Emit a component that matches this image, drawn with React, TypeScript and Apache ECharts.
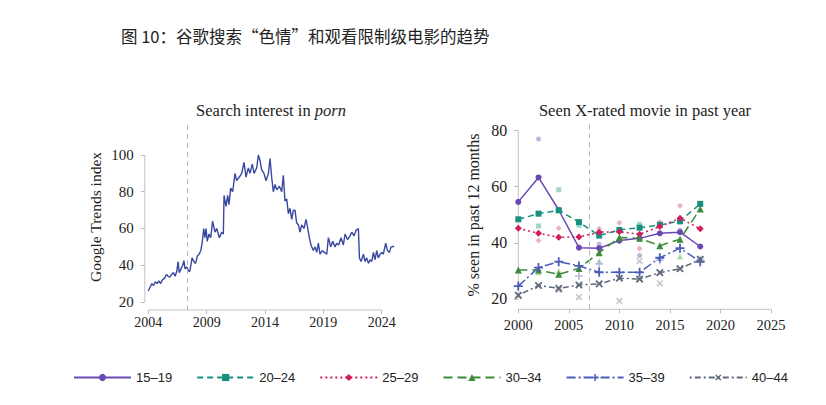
import React, { useEffect, useRef } from "react";
import * as echarts from "echarts";

// ---------- Left panel: Google Trends "porn" ----------
const searchYears = [
  2004.0, 2004.15, 2004.3, 2004.45, 2004.6, 2004.75, 2004.9, 2005.05, 2005.2, 2005.4, 2005.55, 2005.7, 2005.85,
  2006.0, 2006.15, 2006.3, 2006.45, 2006.55, 2006.65, 2006.8, 2006.95, 2007.05, 2007.15, 2007.3, 2007.45, 2007.55,
  2007.65, 2007.75, 2007.9, 2008.05, 2008.2, 2008.35, 2008.5, 2008.63, 2008.75, 2008.85, 2008.95, 2009.05, 2009.2,
  2009.35, 2009.51, 2009.71, 2009.86, 2010.09, 2010.29, 2010.43, 2010.49, 2010.66, 2010.8, 2010.91, 2011.06, 2011.23,
  2011.43, 2011.57, 2011.8, 2012.0, 2012.2, 2012.37, 2012.57, 2012.71, 2012.91, 2013.06, 2013.29, 2013.43, 2013.57,
  2013.71, 2013.91, 2014.09, 2014.29, 2014.43, 2014.57, 2014.71, 2014.86, 2015.0, 2015.23, 2015.43, 2015.57, 2015.71,
  2015.86, 2016.0, 2016.14, 2016.29, 2016.43, 2016.57, 2016.71, 2016.86, 2017.0, 2017.14, 2017.34, 2017.51, 2017.66,
  2017.8, 2017.94, 2018.14, 2018.29, 2018.43, 2018.57, 2018.71, 2018.91, 2019.09, 2019.29, 2019.43, 2019.63, 2019.8,
  2020.0, 2020.14, 2020.31, 2020.51, 2020.71, 2020.86, 2021.06, 2021.29, 2021.43, 2021.63, 2021.8, 2022.0, 2022.09,
  2022.23, 2022.43, 2022.57, 2022.71, 2022.86, 2023.0, 2023.14, 2023.29, 2023.43, 2023.57, 2023.71, 2023.86, 2024.0,
  2024.14, 2024.34, 2024.49, 2024.66, 2024.8, 2024.94, 2025.06,
];
const searchValues = [
  26, 28, 30, 29, 31, 30, 31.5, 30, 32, 33, 35, 34, 33.5,
  35, 36, 34, 37, 42, 36, 38, 40, 42.5, 38, 39, 37, 36.5,
  40, 44, 42, 41, 45, 46, 48, 53, 60, 55, 60, 53, 57,
  55, 64, 58, 60, 55, 58, 57, 78, 72, 78, 73, 82, 80,
  90, 86, 88, 90, 96, 88, 93, 90, 95, 90, 93, 100, 97,
  92, 90, 86, 90, 98, 88, 80, 84, 81, 83, 80, 89, 75,
  76, 68, 71, 65, 70, 70, 63, 62, 58, 62, 60, 65, 60,
  55, 51, 48, 50, 47, 52, 46, 48, 47, 46, 55, 50, 53,
  50, 52, 51, 55, 51, 57, 54, 56, 58, 56, 59, 60, 44,
  42, 46, 42, 44, 41, 43, 42, 47, 43, 48, 44, 46, 47,
  46, 52, 48, 47, 50, 50, 50.5,
];
const leftXTicks = [2004, 2009, 2014, 2019, 2024];
const leftYTicks = [20, 40, 60, 80, 100];
const leftMarkerYear = 2007.35;

// ---------- Right panel: seen X-rated movie ----------
const surveyYears = [2000, 2002, 2004, 2006, 2008, 2010, 2012, 2014, 2016, 2018];
const ageGroups = ["15–19", "20–24", "25–29", "30–34", "35–39", "40–44"];
const v15 = [54.6, 63.3, 51.7, 38.3, 38.1, 40.8, 41.6, 43.4, 43.8, 38.7];
const v20 = [48.4, 50.4, 51.6, 47.4, 42.6, 44.6, 45.4, 46.4, 47.8, 53.9];
const v25 = [45.2, 43.4, 42.0, 42.1, 43.8, 44.0, 43.1, 45.8, 48.8, 45.0];
const v30 = [30.3, 30.3, 28.8, 30.9, 36.5, 41.9, 41.6, 39.0, 41.3, 52.1];
const v35 = [24.6, 31.2, 33.3, 31.8, 29.5, 29.5, 29.5, 34.7, 38.1, 33.3];
const v40 = [21.3, 24.8, 23.8, 25.0, 25.4, 27.4, 27.1, 29.4, 30.8, 34.1];
// faint single-year points
const f15 = [[2002, 77], [2008, 39.5], [2012, 35.5], [2014, 46.3], [2016, 44.5]];
const f20 = [[2002, 46], [2004, 58.9], [2006, 46.3], [2008, 43.3], [2010, 44.5], [2012, 46.6], [2014, 47], [2016, 47.2]];
const f25 = [[2002, 40.8], [2004, 45.2], [2008, 45], [2010, 47.2], [2012, 38], [2014, 47.3], [2016, 53.2]];
const f30 = [[2002, 29.5], [2004, 30], [2008, 33.5], [2016, 35.1]];
const f35 = [[2006, 28.2], [2008, 32.5], [2014, 33.8], [2018, 34]];
const f40 = [[2004, 23.2], [2006, 20.7], [2010, 19.3], [2012, 33.5], [2014, 25.6]];
const rightXTicks = [2000, 2005, 2010, 2015, 2020, 2025];
const rightYTicks = [20, 40, 60, 80];
const rightMarkerYear = 2007.0;

const groupValues = [v15, v20, v25, v30, v35, v40];
const groupFaint = [f15, f20, f25, f30, f35, f40];
const colors = ["#6a48b3", "#17917f", "#cf1f5e", "#3d8b3a", "#4a5cb8", "#5e6a7a"];
const faintColors = ["#b5a8d6", "#8fcdc4", "#e8a5be", "#a7cba4", "#a9b1dd", "#b6bcc4"];
const plusPath = "path://M4,0H6V4H10V6H6V10H4V6H0V4H4Z";
const symbols = ["circle", "rect", "diamond", "triangle", plusPath, plusPath];
const symbolRot = [0, 0, 0, 0, 0, 45];
const symbolSizes = [6, 6, 7, 7, 9, 9];
const dashes: any[] = ["solid", [6, 4], [2, 3], [9, 5], [9, 3, 2, 3], [2, 3, 6, 3]];

const SERIF = "Liberation Serif";
const SANS = "Liberation Sans";
const CJK = "Noto Sans CJK SC";

export default function App() {
  const ref = useRef<HTMLDivElement>(null);
  useEffect(() => {
    document.body.style.margin = "0";
    const chart = echarts.init(ref.current!, null, { renderer: "svg" });

    const series: any[] = [
      {
        type: "line",
        xAxisIndex: 0,
        yAxisIndex: 0,
        data: searchYears.map((y, i) => [y, searchValues[i]]),
        showSymbol: false,
        lineStyle: { color: "#3a48a0", width: 1.4 },
        itemStyle: { color: "#3a48a0" },
        silent: true,
        markLine: {
          silent: true,
          symbol: "none",
          label: { show: false },
          lineStyle: { color: "#b8b8b8", type: [5, 4], width: 1 },
          data: [{ xAxis: leftMarkerYear }],
        },
      },
    ];
    groupFaint.forEach((pts, g) => {
      series.push({
        type: "scatter",
        name: "faint" + g,
        xAxisIndex: 1,
        yAxisIndex: 1,
        data: pts,
        symbol: symbols[g],
        symbolRotate: symbolRot[g],
        symbolSize: symbolSizes[g] - 1,
        itemStyle: { color: faintColors[g], opacity: 0.85 },
        silent: true,
        z: 1,
      });
    });
    ageGroups.forEach((name, g) => {
      series.push({
        type: "line",
        name,
        xAxisIndex: 1,
        yAxisIndex: 1,
        data: surveyYears.map((y, i) => [y, groupValues[g][i]]),
        symbol: symbols[g],
        symbolRotate: symbolRot[g],
        symbolSize: symbolSizes[g],
        lineStyle: { color: colors[g], width: 1.5, type: dashes[g] },
        itemStyle: { color: colors[g] },
        z: 3,
        silent: true,
        ...(g === 0
          ? {
              markLine: {
                silent: true,
                symbol: "none",
                label: { show: false },
                lineStyle: { color: "#b8b8b8", type: [5, 4], width: 1 },
                data: [{ xAxis: rightMarkerYear }],
              },
            }
          : {}),
      });
    });

    const axisLabelBase = { color: "#222", fontFamily: SERIF };
    chart.setOption({
      animation: false,
      grid: [
        { left: 144.8, top: 123, width: 252.1, height: 187 },
        { left: 518.3, top: 123, width: 252.7, height: 186.3 },
      ],
      xAxis: [
        {
          type: "value",
          gridIndex: 0,
          min: 2003.7,
          max: 2025.3,
          splitLine: { show: false },
          axisLine: { show: false },
          axisTick: { show: true, customValues: leftXTicks, length: 4, lineStyle: { color: "#bbb" } },
          axisLabel: { ...axisLabelBase, fontSize: 14, margin: 5, customValues: leftXTicks, formatter: (v: number) => String(v) },
        },
        {
          type: "value",
          gridIndex: 1,
          min: 2000,
          max: 2025,
          splitLine: { show: false },
          axisLine: { show: false },
          axisTick: { show: true, customValues: rightXTicks, length: 4, lineStyle: { color: "#bbb" } },
          axisLabel: { ...axisLabelBase, fontSize: 14.5, margin: 8, customValues: rightXTicks, formatter: (v: number) => String(v) },
        },
      ],
      yAxis: [
        {
          type: "value",
          gridIndex: 0,
          min: 15.65,
          max: 117.4,
          splitLine: { show: false },
          axisLine: { show: false },
          axisTick: { show: true, customValues: leftYTicks, length: 4, lineStyle: { color: "#bbb" } },
          axisLabel: { ...axisLabelBase, fontSize: 15, margin: 11, customValues: leftYTicks },
        },
        {
          type: "value",
          gridIndex: 1,
          min: 16.33,
          max: 82.7,
          splitLine: { show: false },
          axisLine: { show: false },
          axisTick: { show: true, customValues: rightYTicks, length: 4, lineStyle: { color: "#bbb" } },
          axisLabel: { ...axisLabelBase, fontSize: 16, margin: 11, customValues: rightYTicks },
        },
      ],
      legend: {
        data: ageGroups,
        left: 73,
        top: 371,
        padding: 0,
        itemWidth: 57,
        itemHeight: 9,
        itemGap: 24,
        textStyle: { fontFamily: SANS, fontSize: 13, color: "#222" },
      },
      series,
    });

    // axis lines spanning only the tick range (base-R style)
    const p = (gi: number, v: number[]) => chart.convertToPixel({ gridIndex: gi } as any, v) as number[];
    const lx0 = p(0, [leftXTicks[0], leftYTicks[0]]);
    const lx1 = p(0, [leftXTicks[leftXTicks.length - 1], leftYTicks[leftYTicks.length - 1]]);
    const rx0 = p(1, [rightXTicks[0], rightYTicks[0]]);
    const rx1 = p(1, [rightXTicks[rightXTicks.length - 1], rightYTicks[rightYTicks.length - 1]]);
    const lBottom = p(0, [2004, 15.65])[1];
    const lLeft = p(0, [2003.7, 20])[0];
    const rBottom = p(1, [2000, 16.33])[1];
    const rLeft = p(1, [2000, 20])[0];
    const axisStyle = { stroke: "#c4c4c4", lineWidth: 1 };

    chart.setOption({
      graphic: [
        { type: "line", shape: { x1: lLeft, y1: lx0[1], x2: lLeft, y2: lx1[1] }, style: axisStyle, silent: true },
        { type: "line", shape: { x1: lx0[0], y1: lBottom, x2: lx1[0], y2: lBottom }, style: axisStyle, silent: true },
        { type: "line", shape: { x1: rLeft, y1: rx0[1], x2: rLeft, y2: rx1[1] }, style: axisStyle, silent: true },
        { type: "line", shape: { x1: rx0[0], y1: rBottom, x2: rx1[0], y2: rBottom }, style: axisStyle, silent: true },
        {
          type: "text",
          x: 121,
          y: 36,
          style: {
            text: "图 10：谷歌搜索“色情”和观看限制级电影的趋势",
            fontFamily: CJK,
            fontSize: 16.5,
            fill: "#222",
            textAlign: "left",
            textVerticalAlign: "middle",
          },
        },
        {
          type: "text",
          x: 271,
          y: 110,
          style: {
            text: "Search interest in {i|porn}",
            fontFamily: SERIF,
            fontSize: 16.5,
            fill: "#222",
            textAlign: "center",
            textVerticalAlign: "middle",
            rich: { i: { fontStyle: "italic", fontFamily: SERIF, fontSize: 16.5, fill: "#222" } },
          },
        },
        {
          type: "text",
          x: 645,
          y: 110,
          style: {
            text: "Seen X-rated movie in past year",
            fontFamily: SERIF,
            fontSize: 16.5,
            fill: "#222",
            textAlign: "center",
            textVerticalAlign: "middle",
          },
        },
        {
          type: "text",
          x: 95,
          y: 217,
          rotation: Math.PI / 2,
          style: {
            text: "Google Trends index",
            fontFamily: SERIF,
            fontSize: 15.5,
            fill: "#222",
            textAlign: "center",
            textVerticalAlign: "middle",
          },
        },
        {
          type: "text",
          x: 473,
          y: 215,
          rotation: Math.PI / 2,
          style: {
            text: "% seen in past 12 months",
            fontFamily: SERIF,
            fontSize: 16,
            fill: "#222",
            textAlign: "center",
            textVerticalAlign: "middle",
          },
        },
      ],
    });

    return () => chart.dispose();
  }, []);
  return <div ref={ref} style={{ width: 826, height: 405 }} />;
}
